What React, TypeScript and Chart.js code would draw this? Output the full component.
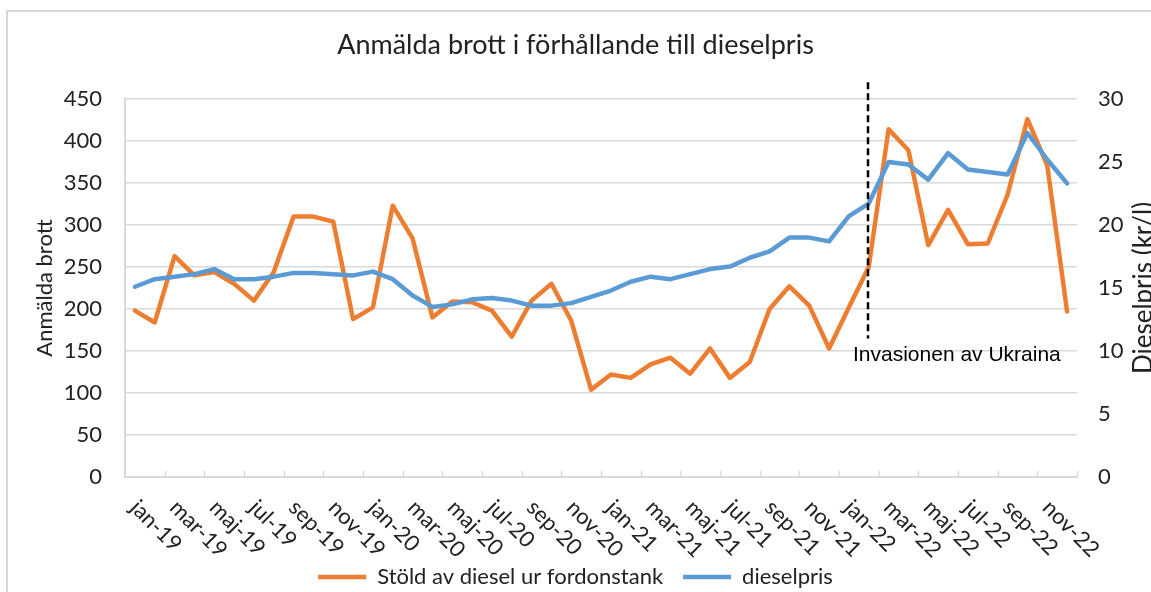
import React, { useEffect, useRef } from 'react';
import { Chart, registerables } from 'chart.js';

Chart.register(...registerables);

// ---- data ----
const months = [
  'jan-19', 'feb-19', 'mar-19', 'apr-19', 'maj-19', 'jun-19', 'jul-19', 'aug-19', 'sep-19', 'okt-19', 'nov-19', 'dec-19',
  'jan-20', 'feb-20', 'mar-20', 'apr-20', 'maj-20', 'jun-20', 'jul-20', 'aug-20', 'sep-20', 'okt-20', 'nov-20', 'dec-20',
  'jan-21', 'feb-21', 'mar-21', 'apr-21', 'maj-21', 'jun-21', 'jul-21', 'aug-21', 'sep-21', 'okt-21', 'nov-21', 'dec-21',
  'jan-22', 'feb-22', 'mar-22', 'apr-22', 'maj-22', 'jun-22', 'jul-22', 'aug-22', 'sep-22', 'okt-22', 'nov-22', 'dec-22',
];

const theftValues = [
  198, 184, 263, 240, 244, 230, 210, 244, 310, 310, 304, 188,
  202, 323, 284, 190, 209, 208, 198, 167, 210, 230, 186, 104,
  122, 118, 134, 142, 123, 153, 118, 137, 200, 227, 204, 153,
  202, 250, 414, 389, 276, 318, 277, 278, 336, 426, 371, 197,
];

const dieselValues = [
  15.1, 15.7, 15.9, 16.1, 16.5, 15.7, 15.7, 15.9, 16.2, 16.2, 16.1, 16.0,
  16.3, 15.7, 14.4, 13.5, 13.7, 14.1, 14.2, 14.0, 13.6, 13.6, 13.8, 14.3,
  14.8, 15.5, 15.9, 15.7, 16.1, 16.5, 16.7, 17.4, 17.9, 19.0, 19.0, 18.7,
  20.7, 21.7, 25.0, 24.8, 23.6, 25.7, 24.4, 24.2, 24.0, 27.3, 25.2, 23.3,
];

const leftAxis = { min: 0, max: 450, step: 50 };
const rightAxis = { min: 0, max: 30, step: 5 };

const titleText = 'Anmälda brott i förhållande till dieselpris';
const leftTitle = 'Anmälda brott';
const rightTitle = 'Dieselpris (kr/l)';
const theftName = 'Stöld av diesel ur fordonstank';
const dieselName = 'dieselpris';
const eventMonth = 'feb-22';
const eventText = 'Invasionen av Ukraina';

// ---- styles ----
const TEXT = '#222222';
const GRID = '#d9d9d9';
const ORANGE = '#ed7d31';
const BLUE = '#5b9bd5';
const FONT = 'Lato, "Noto Sans", sans-serif';
const CANVAS_W = 1151;
const CANVAS_H = 598;

const framePlugin = {
  id: 'frame',
  beforeDraw(chart: any) {
    const ctx = chart.ctx;
    ctx.save();
    ctx.fillStyle = '#ffffff';
    ctx.fillRect(0, 0, chart.width, chart.height);
    ctx.strokeStyle = GRID;
    ctx.lineWidth = 2;
    ctx.beginPath();
    ctx.moveTo(7, chart.height);
    ctx.lineTo(7, 11);
    ctx.lineTo(chart.width, 11);
    ctx.stroke();
    ctx.restore();
  },
};

const xDecorPlugin = {
  id: 'xDecor',
  beforeDatasetsDraw(chart: any) {
    const x = chart.scales.x;
    const ctx = chart.ctx;
    const base = chart.chartArea.bottom;
    ctx.save();
    ctx.strokeStyle = GRID;
    ctx.lineWidth = 1.5;
    for (let k = 0; k <= months.length; k += 2) {
      const px = Math.round(x.getPixelForValue(k - 0.5)) + 0.5;
      ctx.beginPath();
      ctx.moveTo(px, base);
      ctx.lineTo(px, base - 6);
      ctx.stroke();
    }
    ctx.restore();
  },
  afterDraw(chart: any) {
    const x = chart.scales.x;
    const ctx = chart.ctx;
    const base = chart.chartArea.bottom;
    ctx.save();
    ctx.fillStyle = TEXT;
    ctx.font = `22px ${FONT}`;
    ctx.textAlign = 'left';
    ctx.textBaseline = 'middle';
    months.forEach((m, i) => {
      if (i % 2 !== 0) return;
      const px = x.getPixelForValue(i);
      ctx.save();
      ctx.translate(px - 1, base + 27);
      ctx.rotate(Math.PI / 4);
      ctx.fillText(m, 0, 0);
      ctx.restore();
    });
    // right axis title, reading bottom to top
    const area = chart.chartArea;
    ctx.save();
    ctx.translate(1152, (area.top + area.bottom) / 2);
    ctx.rotate(-Math.PI / 2);
    ctx.textAlign = 'center';
    ctx.textBaseline = 'alphabetic';
    ctx.font = `26px ${FONT}`;
    ctx.fillText(rightTitle, 0, 0);
    ctx.restore();
    ctx.restore();
  },
};

const eventPlugin = {
  id: 'eventMarker',
  afterDatasetsDraw(chart: any) {
    const x = chart.scales.x;
    const y = chart.scales.y;
    const ctx = chart.ctx;
    const idx = months.indexOf(eventMonth);
    const px = Math.round(x.getPixelForValue(idx)) - 1;
    ctx.save();
    ctx.strokeStyle = '#000000';
    ctx.lineWidth = 2.5;
    ctx.setLineDash([7, 4]);
    ctx.beginPath();
    ctx.moveTo(px, y.getPixelForValue(470));
    ctx.lineTo(px, y.getPixelForValue(165));
    ctx.stroke();
    ctx.setLineDash([]);
    ctx.fillStyle = '#000000';
    ctx.font = '21px "Liberation Sans", Arial, sans-serif';
    ctx.textAlign = 'left';
    ctx.textBaseline = 'middle';
    ctx.fillText(eventText, px - 15, y.getPixelForValue(145));
    ctx.restore();
  },
};

export default function App() {
  const ref = useRef<HTMLCanvasElement | null>(null);

  useEffect(() => {
    if (!ref.current) return;
    const chart = new Chart(ref.current, {
      type: 'line',
      data: {
        labels: months,
        datasets: [
          {
            label: theftName,
            data: theftValues,
            borderColor: ORANGE,
            backgroundColor: ORANGE,
            borderWidth: 4.5,
            pointRadius: 0,
            tension: 0,
            borderJoinStyle: 'round',
            borderCapStyle: 'round',
            yAxisID: 'y',
            order: 1,
          },
          {
            label: dieselName,
            data: dieselValues,
            borderColor: BLUE,
            backgroundColor: BLUE,
            borderWidth: 4.5,
            pointRadius: 0,
            tension: 0,
            borderJoinStyle: 'round',
            borderCapStyle: 'round',
            yAxisID: 'y1',
            order: 0,
          },
        ],
      },
      options: {
        responsive: false,
        animation: false,
        devicePixelRatio: 1,
        layout: { padding: { left: 0, right: 0, top: 0, bottom: 0 } },
        plugins: {
          title: {
            display: true,
            text: titleText,
            color: TEXT,
            font: { family: FONT, size: 27, weight: 'normal' },
            padding: { top: 29, bottom: 37.6 },
          },
          legend: {
            position: 'bottom',
            labels: {
              color: TEXT,
              font: { family: FONT, size: 22 },
              usePointStyle: true,
              pointStyle: 'line',
              pointStyleWidth: 48,
              padding: 20,
              sort: (a: any, b: any) => a.datasetIndex - b.datasetIndex,
            },
          },
          tooltip: { enabled: false },
        },
        scales: {
          x: {
            type: 'category',
            offset: true,
            grid: { display: false },
            border: { display: true, color: GRID, width: 2 },
            ticks: { display: false },
            afterFit: (s: any) => {
              s.height = 69;
            },
          },
          y: {
            position: 'left',
            min: leftAxis.min,
            max: leftAxis.max,
            ticks: {
              stepSize: leftAxis.step,
              color: TEXT,
              font: { family: FONT, size: 22 },
              padding: 23,
            },
            grid: { color: GRID, lineWidth: 1.5, drawTicks: false },
            border: { display: true, color: GRID, width: 2 },
            title: {
              display: true,
              text: leftTitle,
              color: TEXT,
              font: { family: FONT, size: 22 },
              padding: { top: 32, bottom: 0 },
            },
            afterFit: (s: any) => {
              s.width = 125;
            },
          },
          y1: {
            position: 'right',
            min: rightAxis.min,
            max: rightAxis.max,
            ticks: {
              stepSize: rightAxis.step,
              color: TEXT,
              font: { family: FONT, size: 22 },
              padding: 21,
            },
            grid: { drawOnChartArea: false, drawTicks: false },
            border: { display: false },
            afterFit: (s: any) => {
              s.width = 74;
            },
          },
        },
      },
      plugins: [framePlugin, xDecorPlugin, eventPlugin],
    } as any);
    return () => chart.destroy();
  }, []);

  return (
    <div style={{ position: 'fixed', left: 0, top: 0, width: 1151, height: 592, overflow: 'hidden' }}>
      <canvas ref={ref} width={CANVAS_W} height={CANVAS_H} style={{ display: 'block' }} />
    </div>
  );
}
